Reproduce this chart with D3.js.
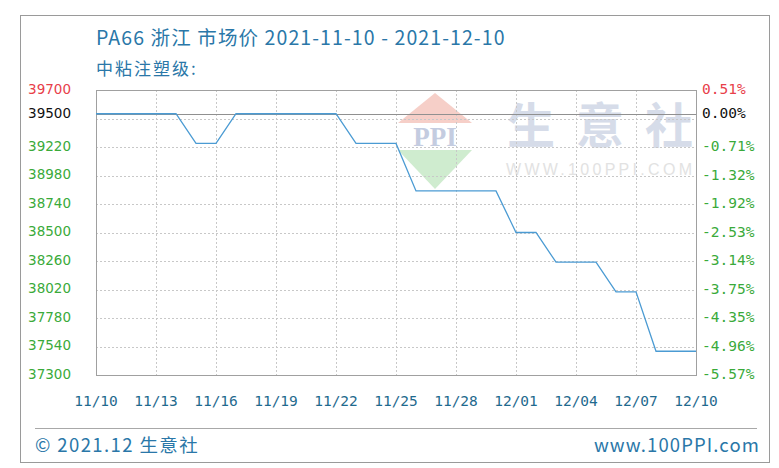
<!DOCTYPE html>
<html>
<head>
<meta charset="utf-8">
<script src="https://cdn.jsdelivr.net/npm/d3@7"></script>
<style>
  html, body { margin: 0; padding: 0; background: #fff; }
  svg { display: block; }
</style>
</head>
<body>
<svg id="chart" width="779" height="468"></svg>
<script>
// ---- data ----
const titleText = "PA66 浙江 市场价 2021-11-10 - 2021-12-10";
const subtitleText = "中粘注塑级:";
const dates = ["2021-11-10","2021-11-11","2021-11-12","2021-11-13","2021-11-14","2021-11-15","2021-11-16",
  "2021-11-17","2021-11-18","2021-11-19","2021-11-20","2021-11-21","2021-11-22","2021-11-23","2021-11-24",
  "2021-11-25","2021-11-26","2021-11-27","2021-11-28","2021-11-29","2021-11-30","2021-12-01","2021-12-02",
  "2021-12-03","2021-12-04","2021-12-05","2021-12-06","2021-12-07","2021-12-08","2021-12-09","2021-12-10"];
const prices = [39500,39500,39500,39500,39500,39250,39250,
  39500,39500,39500,39500,39500,39500,39250,39250,
  39250,38850,38850,38850,38850,38850,38500,38500,
  38250,38250,38250,38000,38000,37500,37500,37500];
const gridTicks = [37300,37540,37780,38020,38260,38500,38740,38980,39220,39460,39700];
const greenTicks = [37300,37540,37780,38020,38260,38500,38740,38980,39220];
const baseValue = 39500;
const maxValue = 39700;
const xTickDates = ["2021-11-10","2021-11-13","2021-11-16","2021-11-19","2021-11-22","2021-11-25",
  "2021-11-28","2021-12-01","2021-12-04","2021-12-07","2021-12-10"];
const footerLeft = "© 2021.12 生意社";
const footerRight = "www.100PPI.com";
const watermarkChars = ["生", "意", "社"];

// ---- layout ----
const svg = d3.select("#chart");
const plot = {left: 96, right: 696, top: 90, bottom: 375};
const parse = d3.timeParse("%Y-%m-%d");
const x = d3.scaleTime()
  .domain([parse(dates[0]), parse(dates[dates.length - 1])])
  .range([plot.left, plot.right]);
const y = d3.scaleLinear().domain([37300, 39700]).range([plot.bottom, plot.top]);

const tealText = "#2a77a8";
const green = "#3aaa3a";
const red = "#e8404a";
const cjk = "'Noto Sans CJK SC', 'Noto Sans', sans-serif";

// outer frame
svg.append("rect").attr("x", 20.5).attr("y", 15.5).attr("width", 749).attr("height", 447)
  .attr("fill", "#fff").attr("stroke", "#9a9a9a").attr("stroke-width", 1);

// title
svg.append("text").attr("x", 96).attr("y", 45)
  .attr("font-family", cjk).attr("font-size", 19.5).attr("letter-spacing", 1.1)
  .attr("fill", tealText).text(titleText);
svg.append("text").attr("x", 96).attr("y", 75)
  .attr("font-family", cjk).attr("font-size", 17).attr("letter-spacing", 2)
  .attr("fill", tealText).text(subtitleText);

// watermark
const wm = svg.append("g");
const cx = 435;
wm.append("path").attr("d", `M${cx - 37},123 L${cx},93 L${cx + 37},123 Z`).attr("fill", "#f6cfc8");
wm.append("path").attr("d", `M${cx - 37},150 L${cx},189 L${cx + 37},150 Z`).attr("fill", "#cfeccf");
wm.append("text").attr("x", cx).attr("y", 146).attr("text-anchor", "middle")
  .attr("font-family", "'Liberation Serif', serif").attr("font-weight", "bold")
  .attr("font-size", 27).attr("fill", "#c4cce0").text("PPI");
wm.append("g").selectAll("text").data(watermarkChars).join("text")
  .attr("x", (d, i) => 531 + i * 69).attr("y", 143).attr("text-anchor", "middle")
  .attr("font-family", "'Noto Sans CJK SC', sans-serif").attr("font-weight", "bold")
  .attr("font-size", 48).attr("fill", "#d6dce9").text(d => d);
wm.append("text").attr("x", 599).attr("y", 175).attr("text-anchor", "middle")
  .attr("font-family", "'Liberation Sans', sans-serif")
  .attr("font-size", 16).attr("textLength", 186).attr("lengthAdjust", "spacing")
  .attr("fill", "#e2e2e2").text("WWW.100PPI.COM");

// horizontal grid
svg.append("g").selectAll("line").data(gridTicks.slice(0, -1)).join("line")
  .attr("x1", plot.left).attr("x2", plot.right)
  .attr("y1", d => Math.round(y(d)) + 0.5).attr("y2", d => Math.round(y(d)) + 0.5)
  .attr("stroke", "#c8c8c8").attr("stroke-dasharray", "2,2");
// vertical grid
svg.append("g").selectAll("line").data(xTickDates.slice(1, -1)).join("line")
  .attr("x1", d => Math.round(x(parse(d))) + 0.5).attr("x2", d => Math.round(x(parse(d))) + 0.5)
  .attr("y1", plot.top).attr("y2", plot.bottom)
  .attr("stroke", "#c8c8c8").attr("stroke-dasharray", "2,2");

// plot border
svg.append("rect").attr("x", plot.left + 0.5).attr("y", plot.top + 0.5)
  .attr("width", plot.right - plot.left).attr("height", plot.bottom - plot.top)
  .attr("fill", "none").attr("stroke", "#a0a0a0");

// base line
svg.append("line").attr("x1", plot.left).attr("x2", plot.right)
  .attr("y1", Math.round(y(baseValue)) + 0.5).attr("y2", Math.round(y(baseValue)) + 0.5)
  .attr("stroke", "#909090").attr("stroke-width", 1.2);

// price line
const series = dates.map((d, i) => ({date: parse(d), value: prices[i]}));
svg.append("path").datum(series)
  .attr("fill", "none").attr("stroke", "#4b9bd3").attr("stroke-width", 1.3)
  .attr("d", d3.line().x(d => x(d.date)).y(d => y(d.value)));

// left axis labels
const leftFont = "'DejaVu Sans', sans-serif";
const monoFont = "'DejaVu Sans Mono', monospace";
const leftLabels = greenTicks.map(v => ({v, c: green}))
  .concat([{v: baseValue, c: "#111"}, {v: maxValue, c: red}]);
svg.append("g").selectAll("text").data(leftLabels).join("text")
  .attr("x", 71).attr("y", d => y(d.v) - 1).attr("dy", "0.36em")
  .attr("text-anchor", "end").attr("font-family", leftFont).attr("font-size", 13.5)
  .attr("fill", d => d.c).text(d => d.v);

// right axis labels
const pct = v => ((v - baseValue) / baseValue * 100).toFixed(2) + "%";
svg.append("g").selectAll("text").data(leftLabels).join("text")
  .attr("x", 702).attr("y", d => y(d.v) - 1).attr("dy", "0.36em")
  .attr("font-family", monoFont).attr("font-size", 14.5)
  .attr("fill", d => d.c).text(d => pct(d.v));

// x axis labels
const fmt = d3.timeFormat("%m/%d");
svg.append("g").selectAll("text").data(xTickDates).join("text")
  .attr("x", d => x(parse(d))).attr("y", 406).attr("text-anchor", "middle")
  .attr("font-family", monoFont).attr("font-size", 14.5)
  .attr("fill", "#1f6a8e").text(d => fmt(parse(d)));

// footer
svg.append("line").attr("x1", 35).attr("x2", 757).attr("y1", 428.5).attr("y2", 428.5)
  .attr("stroke", "#a8a8a8");
svg.append("text").attr("x", 35).attr("y", 452)
  .attr("font-family", cjk).attr("font-size", 18.5).attr("letter-spacing", 1.4)
  .attr("fill", tealText).text(footerLeft);
svg.append("text").attr("x", 760).attr("y", 452).attr("text-anchor", "end")
  .attr("font-family", cjk).attr("font-size", 18.5).attr("letter-spacing", 1.1)
  .attr("fill", tealText).text(footerRight);
</script>
</body>
</html>
